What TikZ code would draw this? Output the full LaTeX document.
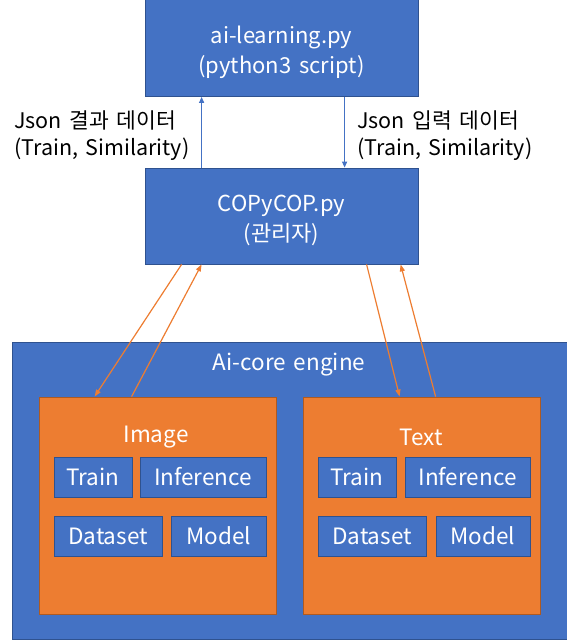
\documentclass[tikz,border=0pt]{standalone}
\usepackage{fontspec}
\setmainfont{Noto Sans CJK KR}[WordSpace=1.6]
\usetikzlibrary{arrows.meta,calc}
\definecolor{oblue}{HTML}{4472C4}
\definecolor{oblueline}{HTML}{2F528F}
\definecolor{oorange}{HTML}{ED7D31}
\definecolor{oorangeline}{HTML}{AE5A21}
\tikzset{
  bluebox/.style={rectangle, fill=oblue, draw=oblueline, line width=0.8pt, text=white, align=center, inner sep=0pt},
  orangebox/.style={rectangle, fill=oorange, draw=oorangeline, line width=0.8pt, inner sep=0pt},
  bigtxt/.style={font=\fontsize{22}{30}\selectfont, text=white, align=center, inner sep=0pt},
  smalltxt/.style={font=\fontsize{22.5}{26}\selectfont},
  labeltxt/.style={font=\fontsize{21.5}{27}\selectfont, align=left, text=black, inner sep=0pt},
  bluearrow/.style={draw=oblue, line width=1.2pt, -{Triangle[length=6pt,width=5pt]}},
  orangearrow/.style={draw=oorange, line width=1.2pt, -{Triangle[length=7pt,width=5pt]}},
}
\begin{document}
\begin{tikzpicture}[x=1pt,y=-1pt]
\useasboundingbox (0,0) rectangle (567,640);
% top boxes
\node[bluebox, minimum width=273pt, minimum height=97pt, label={[bigtxt, yshift=-4pt]center:ai-learning.py\\(python3 script)}] (ai) at (281.5,48) {};
\node[bluebox, minimum width=273pt, minimum height=96pt, label={[bigtxt, yshift=-4pt]center:COPyCOP.py\\(관리자)}] (cop) at (281.5,216) {};
% labels
\node[labeltxt, anchor=west] (lbl) at (14,136) {Json 결과 데이터\\(Train, Similarity)};
\node[labeltxt, anchor=west] (lbr) at (357,136) {Json 입력 데이터\\(Train, Similarity)};
% engine
\node[bluebox, minimum width=557pt, minimum height=297pt] (eng) at (290.5,490.5) {};
\node[text=white, smalltxt, inner sep=0pt] (engt) at (289,365) {Ai-core engine};
\node[orangebox, minimum width=237pt, minimum height=217pt] (img) at (157.5,505.5) {};
\node[orangebox, minimum width=237pt, minimum height=217pt] (txt) at (421.5,505.5) {};
\node[text=white, smalltxt, inner sep=0pt] (imgt) at (156,437) {Image};
\node[text=white, smalltxt, inner sep=0pt] (txtt) at (421,437) {Text};
% inner boxes
\node[bluebox, smalltxt, minimum width=78pt, minimum height=40pt] (itr) at (93,477) {Train};
\node[bluebox, smalltxt, minimum width=126pt, minimum height=40pt] (iin) at (203,477) {Inference};
\node[bluebox, smalltxt, minimum width=108pt, minimum height=40pt] (ids) at (108,536) {Dataset};
\node[bluebox, smalltxt, minimum width=95pt, minimum height=40pt] (imo) at (218.5,536) {Model};
\node[bluebox, smalltxt, minimum width=78pt, minimum height=40pt] (ttr) at (357,477) {Train};
\node[bluebox, smalltxt, minimum width=125pt, minimum height=40pt] (tin) at (467.5,477) {Inference};
\node[bluebox, smalltxt, minimum width=108pt, minimum height=40pt] (tds) at (372,536) {Dataset};
\node[bluebox, smalltxt, minimum width=94pt, minimum height=40pt] (tmo) at (483,536) {Model};
% blue arrows
\draw[bluearrow] ([xshift=57pt]cop.north west) -- ([xshift=57pt]ai.south west);
\draw[bluearrow] ([xshift=200pt]ai.south west) -- ([xshift=200pt]cop.north west);
% orange arrows
\draw[orangearrow] ([xshift=37pt]cop.south west) -- ([xshift=56pt]img.north west);
\draw[orangearrow] ([xshift=93pt]img.north west) -- ([xshift=57pt]cop.south west);
\draw[orangearrow] ([xshift=222pt]cop.south west) -- ([xshift=97pt]txt.north west);
\draw[orangearrow] ([xshift=133pt]txt.north west) -- ([xshift=256pt]cop.south west);
\end{tikzpicture}
\end{document}
